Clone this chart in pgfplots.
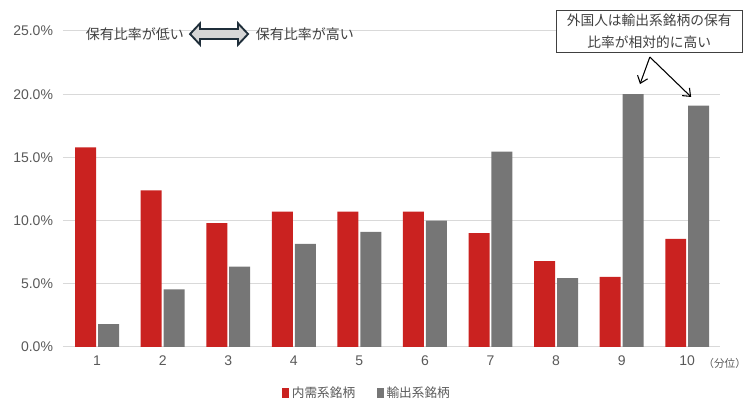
\documentclass[border=0pt]{standalone}
\usepackage{pgfplots}
\pgfplotsset{compat=1.18}
\usepackage{fontspec}
\setmainfont{Liberation Sans}
\newfontfamily\cjk{Noto Sans CJK JP}
\usetikzlibrary{arrows.meta}
\definecolor{barred}{HTML}{CA2220}
\definecolor{bargray}{HTML}{767676}
\definecolor{gridc}{HTML}{D9D9D9}
\definecolor{txt}{HTML}{595959}
\definecolor{txtd}{HTML}{404040}
\definecolor{arrowc}{HTML}{1F2E3A}
\definecolor{arrowf}{HTML}{D6D6D6}
\begin{document}
\begin{tikzpicture}
\path[use as bounding box] (-47.25pt,-46.5pt) rectangle (519pt,260.25pt);
\begin{axis}[
  scale only axis, width=492.75pt, height=237pt,
  xmin=0.48, xmax=10.5, ymin=0, ymax=25,
  axis line style={draw=none},
  ymajorgrids, grid style={gridc, line width=0.75pt},
  xtick={1,2,3,4,5,6,7,8,9,10},
  xticklabels={1,2,3,4,5,6,7,8,9,10},
  ytick={0,5,10,15,20,25},
  yticklabels={0.0\%,5.0\%,10.0\%,15.0\%,20.0\%,25.0\%},
  major tick length=0pt,
  ticklabel style={font=\fontsize{10.5}{12}\selectfont, text=txt},
  yticklabel style={xshift=-4pt},
  xticklabel style={yshift=-3pt},
  clip=false,
  legend columns=2,
  legend style={at={(0.463,-0.146)}, anchor=center, draw=none, fill=none,
    font=\cjk\fontsize{9.5}{11}\selectfont, text=txt,
    /tikz/every even column/.append style={column sep=14pt}},
  legend image code/.code={\fill[#1] (0pt,-3.75pt) rectangle (5.5pt,3.75pt);},
]
\addplot[ybar, bar width=0.32, bar shift=-0.175, fill=barred, draw=none]
  coordinates {(1,15.8) (2,12.4) (3,9.8) (4,10.7) (5,10.7) (6,10.7) (7,9.0) (8,6.8) (9,5.55) (10,8.55)};
\addlegendentry{内需系銘柄}
\addplot[ybar, bar width=0.32, bar shift=0.175, fill=bargray, draw=none]
  coordinates {(1,1.8) (2,4.55) (3,6.35) (4,8.15) (5,9.1) (6,10.0) (7,15.45) (8,5.45) (9,20.0) (10,19.1)};
\addlegendentry{輸出系銘柄}

\node[font=\cjk\fontsize{10.5}{12}\selectfont, text=txtd] at (axis cs:1.578,24.76) {保有比率が低い};
\node[font=\cjk\fontsize{10.5}{12}\selectfont, text=txtd] at (axis cs:4.17,24.76) {保有比率が高い};
\begin{scope}[shift={(axis cs:2.86,24.76)}]
\draw[arrowc, fill=arrowf, line width=1.4pt, line join=miter]
  (-21.75pt,0pt) -- (-14.25pt,8pt) -- (-14.25pt,3.75pt) -- (14.25pt,3.75pt) -- (14.25pt,8pt)
  -- (21.75pt,0pt) -- (14.25pt,-8pt) -- (14.25pt,-3.75pt) -- (-14.25pt,-3.75pt) -- (-14.25pt,-8pt) -- cycle;
\end{scope}
\node[draw=txtd, line width=0.6pt, fill=white, minimum width=139.5pt, minimum height=31.5pt,
  align=center, inner sep=2pt, font=\cjk\fontsize{10.3}{16.5}\selectfont, text=txtd]
  at (axis cs:9.42,25.0) {外国人は輸出系銘柄の保有\\比率が相対的に高い};
\draw[-{Straight Barb[length=5pt,width=8pt]}, line width=0.8pt, black]
  (axis cs:9.43,22.94) -- (axis cs:9.28,20.8);
\draw[-{Straight Barb[length=5pt,width=8pt]}, line width=0.8pt, black]
  (axis cs:9.43,22.94) -- (axis cs:10.06,19.78);
\node[font=\cjk\fontsize{8}{9}\selectfont, text=txt, anchor=west] at (rel axis cs:1,0) [yshift=-12pt, xshift=-16pt] {（分位）};
\end{axis}
\end{tikzpicture}
\end{document}
